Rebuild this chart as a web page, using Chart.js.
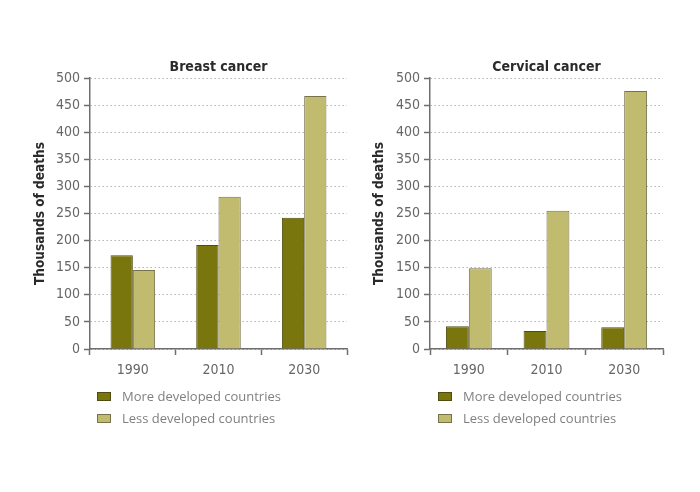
<!DOCTYPE html>
<html>
<head>
<meta charset="utf-8">
<script src="https://cdn.jsdelivr.net/npm/chart.js@4.4.0/dist/chart.umd.min.js"></script>
<style>
  body { margin: 0; background: #fff; }
  #wrap { position: relative; width: 700px; height: 492px; background: #fff; overflow: hidden; }
  .box { position: absolute; }
  .legend { position: absolute; font-family: "Open Sans", "Noto Sans", sans-serif; font-size: 13px; color: #808080; }
  .legend div { position: relative; height: 22px; line-height: 22px; padding-left: 25px; white-space: nowrap; }
  .legend span { position: absolute; left: 0; top: 7px; width: 12px; height: 7px; border: 1px solid; }
</style>
</head>
<body>
<div id="wrap">
  <div class="box" style="left:0px;top:40px;width:355px;height:349px"><canvas id="breast"></canvas></div>
  <div class="box" style="left:345px;top:40px;width:330px;height:349px"><canvas id="cervical"></canvas></div>
  <div class="legend" style="left:97px;top:385px">
    <div><span class="k1"></span>More developed countries</div>
    <div><span class="k2"></span>Less developed countries</div>
  </div>
  <div class="legend" style="left:438px;top:385px">
    <div><span class="k1"></span>More developed countries</div>
    <div><span class="k2"></span>Less developed countries</div>
  </div>
</div>
<script>
// data (thousands of deaths)
const years = ["1990", "2010", "2030"];
const seriesNames = ["More developed countries", "Less developed countries"];
const breastMore = [173, 192, 242];
const breastLess = [146, 281, 467];
const cervicalMore = [42, 33, 40];
const cervicalLess = [149, 255, 476];
const yMax = 500;
const yStep = 50;

const darkFill = "#7a760e";
const darkLine = "#4f4c12";
const lightFill = "#c1bb70";
const lightLine = "#77724a";

document.querySelectorAll(".k1").forEach((e) => { e.style.background = darkFill; e.style.borderColor = darkLine; });
document.querySelectorAll(".k2").forEach((e) => { e.style.background = lightFill; e.style.borderColor = lightLine; });

const narrow = "'Liberation Sans Narrow', 'DejaVu Sans Condensed', 'Arial Narrow', sans-serif";

function makeChart(id, title, more, less, catPct, pad, yWidth) {
    return new Chart(document.getElementById(id), {
        type: "bar",
        data: {
            labels: years,
            datasets: [
                { label: seriesNames[0], data: more, backgroundColor: darkFill, borderColor: darkLine, borderWidth: 1 },
                { label: seriesNames[1], data: less, backgroundColor: lightFill, borderColor: lightLine, borderWidth: 1 }
            ]
        },
        options: {
            responsive: true,
            maintainAspectRatio: false,
            animation: false,
            layout: { padding: pad },
            datasets: { bar: { barPercentage: 1, categoryPercentage: catPct } },
            plugins: {
                legend: { display: false },
                tooltip: { enabled: false },
                title: {
                    display: true,
                    text: title,
                    fullSize: false,
                    color: "#2a2a2a",
                    font: { family: narrow, size: 14, weight: "bold", lineHeight: 1.29 },
                    padding: { top: 0, bottom: 2 }
                }
            },
            scales: {
                x: {
                    afterFit: (s) => { s.height = 40; },
                    grid: { drawOnChartArea: false, drawTicks: true, tickLength: 6, tickColor: "#6e6e6e", tickWidth: 1.5 },
                    border: { color: "#6e6e6e", width: 1.5 },
                    ticks: { color: "#666", padding: 7, font: { family: narrow, size: 14 } }
                },
                y: {
                    min: 0,
                    max: yMax,
                    afterFit: (s) => { s.width = yWidth; },
                    ticks: { stepSize: yStep, color: "#666", padding: 4, font: { family: narrow, size: 14 } },
                    grid: { color: "#b4b4b4", lineWidth: 1, tickLength: 6, tickColor: "#6e6e6e", tickWidth: 1.5, tickBorderDash: [] },
                    border: { color: "#6e6e6e", width: 1.5, dash: [1.5, 2.5] },
                    title: {
                        display: true,
                        text: "Thousands of deaths",
                        color: "#2a2a2a",
                        font: { family: narrow, size: 13.5, weight: "bold", lineHeight: 1.2 },
                        padding: { top: 6, bottom: 0 }
                    }
                }
            }
        }
    });
}

makeChart("breast", "Breast cancer", breastMore, breastLess, 0.52, { left: 26, right: 8, top: 18, bottom: 0 }, 64);
makeChart("cervical", "Cervical cancer", cervicalMore, cervicalLess, 0.59, { left: 20, right: 12, top: 18, bottom: 0 }, 65);
</script>
</body>
</html>
